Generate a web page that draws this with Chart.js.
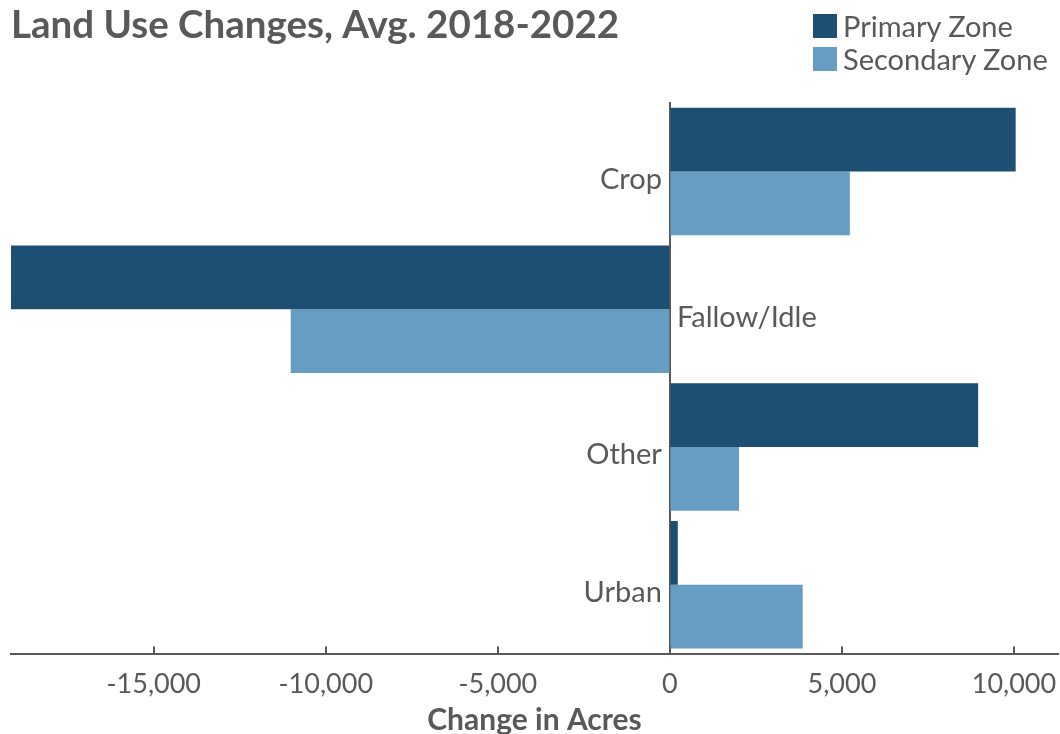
<!DOCTYPE html>
<html>
<head>
<meta charset="utf-8">
<title>Land Use Changes</title>
<script src="https://cdn.jsdelivr.net/npm/chart.js@4/dist/chart.umd.min.js"></script>
<style>
  body { margin: 0; background: #fff; }
  #wrap { position: relative; width: 1060px; height: 734px; }
  #legend { position: absolute; left: 813px; top: 9px; font-family: Lato, sans-serif; font-size: 29px; color: #595959; }
  #legend div { display: flex; align-items: center; height: 33px; }
  #legend span.box { display: inline-block; width: 24px; height: 24px; margin-right: 6px; }
</style>
</head>
<body>
<div id="wrap">
  <canvas id="landUse"></canvas>
  <div id="legend"></div>
</div>
<script>
const categories = ['Crop', 'Fallow/Idle', 'Other', 'Urban'];
const primaryZone = [10050, -19150, 8960, 230];
const secondaryZone = [5230, -11020, 2010, 3860];
const tickValues = [-15000, -10000, -5000, 0, 5000, 10000];

const textGray = '#595959';
const fontFamily = 'Lato, sans-serif';

// category names sit next to the zero line instead of on the left edge
const zeroLineLabels = {
  id: 'zeroLineLabels',
  afterDatasetsDraw(chart) {
    const { ctx, scales: { x, y } } = chart;
    const x0 = x.getPixelForValue(0);
    ctx.save();
    ctx.font = '29px ' + fontFamily;
    ctx.fillStyle = textGray;
    ctx.textBaseline = 'middle';
    categories.forEach((name, i) => {
      const yc = y.getPixelForValue(i) + 8;
      if (primaryZone[i] < 0) {
        ctx.textAlign = 'left';
        ctx.fillText(name, x0 + 7, yc);
      } else {
        ctx.textAlign = 'right';
        ctx.fillText(name, x0 - 8, yc);
      }
    });
    ctx.restore();
  }
};

// short tick marks pointing up from the x axis into the plot
const innerTicks = {
  id: 'innerTicks',
  afterDatasetsDraw(chart) {
    const { ctx, scales: { x } } = chart;
    ctx.save();
    ctx.strokeStyle = textGray;
    ctx.lineWidth = 2;
    x.ticks.forEach(t => {
      const px = Math.round(x.getPixelForValue(t.value));
      ctx.beginPath();
      ctx.moveTo(px, x.top);
      ctx.lineTo(px, x.top - 7);
      ctx.stroke();
    });
    ctx.restore();
  }
};

const chart = new Chart(document.getElementById('landUse'), {
  type: 'bar',
  data: {
    labels: categories,
    datasets: [
      { label: 'Primary Zone', data: primaryZone, backgroundColor: '#1d4f72' },
      { label: 'Secondary Zone', data: secondaryZone, backgroundColor: '#679dc2' }
    ]
  },
  options: {
    indexAxis: 'y',
    responsive: true,
    maintainAspectRatio: false,
    animation: false,
    datasets: { bar: { categoryPercentage: 0.925, barPercentage: 1 } },
    layout: { padding: { left: 11, right: 2, top: 0, bottom: 0 } },
    plugins: {
      legend: { display: false },
      tooltip: { enabled: false },
      title: {
        display: true,
        text: 'Land Use Changes, Avg. 2018-2022',
        align: 'start',
        color: textGray,
        font: { family: fontFamily, size: 38.5, weight: 'bold' },
        padding: { top: 2, bottom: 54.5 }
      }
    },
    scales: {
      x: {
        min: -19150,
        max: 11280,
        afterBuildTicks: (scale) => {
          scale.ticks = tickValues.map(v => ({ value: v }));
        },
        grid: { drawOnChartArea: false, drawTicks: true, tickLength: 12, tickColor: 'rgba(0,0,0,0)' },
        border: { display: true, color: textGray, width: 2 },
        ticks: {
          color: textGray,
          padding: 2,
          maxRotation: 0,
          font: { family: fontFamily, size: 27 }
        },
        title: {
          display: true,
          text: 'Change in Acres',
          color: textGray,
          padding: { top: 0, bottom: -4 },
          font: { family: fontFamily, size: 30, weight: 'bold' }
        }
      },
      y: {
        position: { x: 0 },
        ticks: { display: false },
        grid: { display: false },
        border: { display: true, color: textGray, width: 2 }
      }
    }
  },
  plugins: [zeroLineLabels, innerTicks]
});

// legend built from the dataset labels and colours
const legendEl = document.getElementById('legend');
chart.data.datasets.forEach(ds => {
  const row = document.createElement('div');
  const box = document.createElement('span');
  box.className = 'box';
  box.style.background = ds.backgroundColor;
  row.appendChild(box);
  row.appendChild(document.createTextNode(ds.label));
  legendEl.appendChild(row);
});
</script>
</body>
</html>
